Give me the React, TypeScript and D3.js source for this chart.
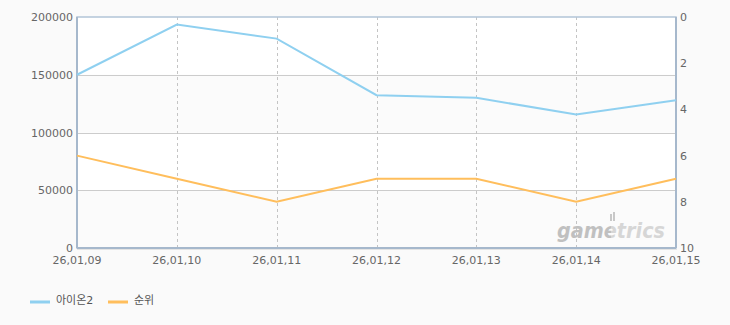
import React from "react";
import * as d3 from "d3";

const dates = ["26,01,09", "26,01,10", "26,01,11", "26,01,12", "26,01,13", "26,01,14", "26,01,15"];
const aionValues = [150000, 193500, 181300, 132300, 130000, 115600, 128000];
const rankValues = [6, 7, 8, 7, 7, 8, 7];
const leftTicks = [0, 50000, 100000, 150000, 200000];
const rightTicks = [0, 2, 4, 6, 8, 10];
const seriesNames = ["아이온2", "순위"];
const seriesColors = ["#8fd0f0", "#ffbe5c"];

const W = 730;
const H = 325;
const m = { left: 77, right: 676, top: 17, bottom: 248 };
const font = "'DejaVu Sans', 'Noto Sans CJK KR', sans-serif";

export default function App() {
  const x = d3.scalePoint<string>().domain(dates).range([m.left, m.right]);
  const yL = d3.scaleLinear().domain([0, 200000]).range([m.bottom, m.top]);
  const yR = d3.scaleLinear().domain([0, 10]).range([m.top, m.bottom]);

  const lineL = d3
    .line<number>()
    .x((_, i) => x(dates[i]) as number)
    .y((d) => yL(d));
  const lineR = d3
    .line<number>()
    .x((_, i) => x(dates[i]) as number)
    .y((d) => yR(d));

  const bands = leftTicks.slice(0, -1).map((t, i) => ({
    y0: yL(leftTicks[i + 1]),
    y1: yL(t),
    fill: (leftTicks.length - 2 - i) % 2 === 0 ? "#ffffff" : "#fbfbfb",
  }));

  return (
    <svg
      width={W}
      height={H}
      style={{ position: "fixed", left: 0, top: 0, background: "#fafafa" }}
      fontFamily={font}
    >
      <defs>
        <linearGradient id="wm" gradientUnits="userSpaceOnUse" x1={557} x2={665} y1={0} y2={0}>
          <stop offset="0.5" stopColor="#c0c0c0" />
          <stop offset="0.5" stopColor="#d6d6d6" />
        </linearGradient>
      </defs>
      <rect x={0} y={0} width={W} height={H} fill="#fafafa" />
      {bands.map((b, i) => (
        <rect key={i} x={m.left} y={b.y0} width={m.right - m.left} height={b.y1 - b.y0} fill={b.fill} />
      ))}
      {leftTicks.slice(1, -1).map((t) => (
        <line key={t} x1={m.left} x2={m.right} y1={Math.round(yL(t)) + 0.5} y2={Math.round(yL(t)) + 0.5} stroke="#cccccc" />
      ))}
      {dates.slice(1, -1).map((d) => (
        <line
          key={d}
          x1={Math.round(x(d) as number) + 0.5}
          x2={Math.round(x(d) as number) + 0.5}
          y1={m.top}
          y2={m.bottom}
          stroke="#c4c4c4"
          strokeDasharray="3,3"
        />
      ))}
      {/* watermark */}
      <g fill="#c8c8c8">
        <rect x={610} y={214} width={2} height={7} />
        <rect x={613} y={212} width={2} height={9} />
      </g>
      <text x={557} y={238} fontSize={21} fontStyle="italic" fontWeight="bold" fontFamily="'DejaVu Sans', sans-serif" fill="url(#wm)" textLength={108} lengthAdjust="spacingAndGlyphs">
        gametrics
      </text>
      {/* frame */}
      <line x1={m.left} x2={m.right + 1} y1={m.bottom + 1.5} y2={m.bottom + 1.5} stroke="#e4e4e4" strokeWidth={1} />
      <rect x={m.left} y={m.top} width={m.right - m.left} height={m.bottom - m.top} fill="none" stroke="#b3c5d8" strokeWidth={1.5} />
      <line x1={m.left} x2={m.left} y1={m.top} y2={m.bottom} stroke="#a6b8cc" strokeWidth={2} />
      <line x1={m.left} x2={m.right} y1={m.bottom} y2={m.bottom} stroke="#a6b8cc" strokeWidth={2} />
      <line x1={m.right} x2={m.right} y1={m.top} y2={m.bottom} stroke="#a6b8cc" strokeWidth={2} />
      {/* series */}
      <path d={lineL(aionValues) || ""} fill="none" stroke={seriesColors[0]} strokeWidth={2} />
      <path d={lineR(rankValues) || ""} fill="none" stroke={seriesColors[1]} strokeWidth={2} />
      {/* left axis labels */}
      {leftTicks.map((t) => (
        <text key={t} x={73} y={yL(t) + 4} fontSize={11} fill="#666" textAnchor="end">
          {t}
        </text>
      ))}
      {/* right axis labels */}
      {rightTicks.map((t) => (
        <text key={t} x={680} y={yR(t) + 4} fontSize={11} fill="#666" textAnchor="start">
          {t}
        </text>
      ))}
      {/* x labels */}
      {dates.map((d) => (
        <text key={d} x={x(d) as number} y={264} fontSize={11} fill="#666" textAnchor="middle">
          {d}
        </text>
      ))}
      {/* legend */}
      {seriesNames.map((n, i) => {
        const lx = i === 0 ? 30 : 108;
        return (
          <g key={n}>
            <line x1={lx} x2={lx + 20} y1={302} y2={302} stroke={seriesColors[i]} strokeWidth={3} />
            <text x={lx + 26} y={304} fontSize={11} fill="#555">
              {n}
            </text>
          </g>
        );
      })}
    </svg>
  );
}
